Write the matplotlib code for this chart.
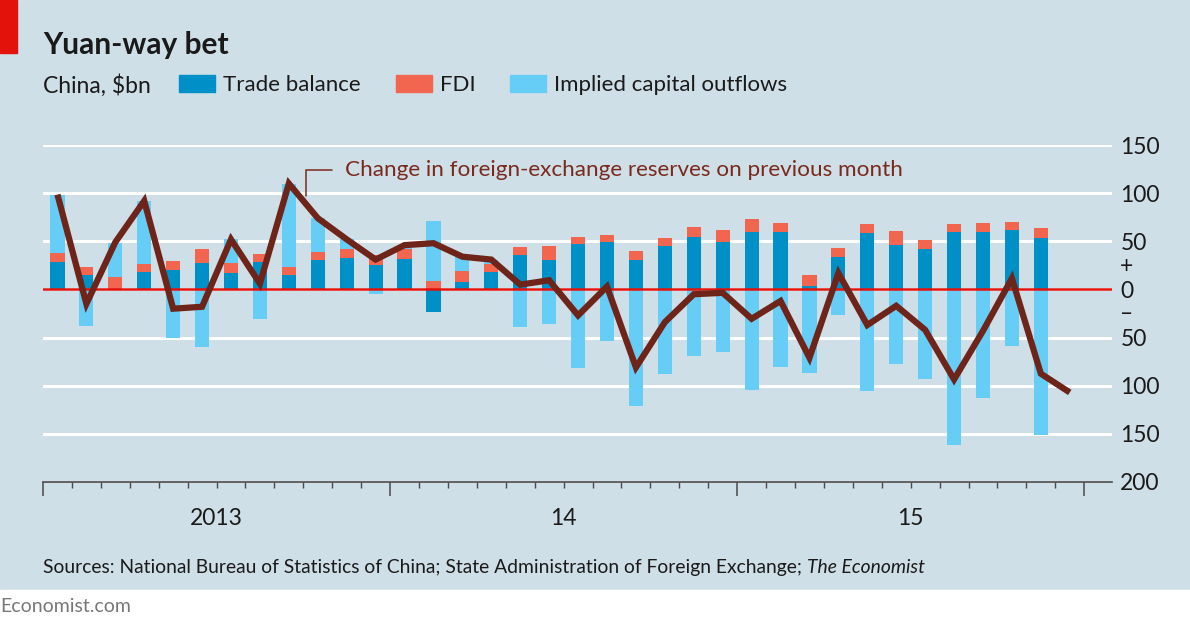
import numpy as np
import pandas as pd
import matplotlib
matplotlib.use("Agg")
import matplotlib.pyplot as plt
from matplotlib.patches import Patch, Rectangle

plt.rcParams['font.family'] = ['Liberation Sans Narrow', 'Lato', 'DejaVu Sans']

# monthly data, Jan 2013 - Nov 2015 (reserves to Dec 2015), $bn
months = pd.date_range('2013-01-01', '2015-12-01', freq='MS')

trade_balance = [29, 14.5, -1, 18, 20, 27, 17, 28.5, 14.5, 30.5, 33, 25,
                 31.5, -23.5, 7.5, 18, 35.5, 31, 47, 49, 31, 45, 54, 49,
                 59.5, 60, 3.5, 34, 59, 46, 42, 59.5, 60, 61.5, 53.5]
fdi = [9, 9, 12.5, 8, 10, 15, 10, 8, 9, 8.5, 9, 11,
       10.5, 8.5, 12, 8.5, 9, 14.5, 7.5, 7.5, 9, 8.5, 10.5, 13,
       14, 8.5, 12, 9.5, 9, 14.5, 9, 8.5, 9.5, 9, 10.5]
capital = [60.5, -38.5, 35.5, 66, -50, -60, 25, -30.5, 86.5, 35, 10, -5,
           4, 63, 14.5, 4.5, -39.5, -36, -81.5, -53.5, -121, -87.5, -69.5, -65.5,
           -104, -80.5, -86.5, -26.5, -105, -77.5, -93, -161.5, -112.5, -59, -151.5]
reserves = [98.5, -15, 49, 92, -20, -18, 52, 6, 110, 74, 52, 31,
            46, 48, 34, 31, 5, 9.5, -27, 3, -81, -34, -5, -3.5,
            -30.5, -12, -71, 17, -37, -17, -42, -93.5, -43, 11.5, -87.5, -107]

year_labels = ['2013', '14', '15']
y_ticks = [150, 100, 50, 0, -50, -100, -150, -200]

BG = '#cfdfe7'
C_TB = '#0090c8'
C_FDI = '#f26650'
C_CAP = '#66cdf6'
C_LINE = '#6e2418'
C_TEXT_LINE = '#7a2a1c'
RED = '#e3120b'
GREY = '#4a4a4a'
INK = '#1a1a1a'

W, H = 1190, 624


def fx(px):
    return px / W


def fy(py):
    return 1 - py / H


fig = plt.figure(figsize=(W / 100, H / 100), dpi=100)
fig.patch.set_facecolor(BG)

# white strip at the bottom and red tag top-left
fig.add_artist(Rectangle((0, 0), 1, 34 / H, transform=fig.transFigure,
                         color='white', zorder=0))
fig.add_artist(Rectangle((0, fy(53)), 17 / W, 53 / H, transform=fig.transFigure,
                         color=RED, zorder=1))

ax = fig.add_axes([fx(43), fy(482), fx(1112) - fx(43), fy(145) - fy(482)])
ax.set_facecolor('none')

# stacked bars: positive parts go up from zero, negative parts down
n = len(trade_balance)
xb = np.arange(n) + 0.5
pos_base = np.zeros(n)
neg_base = np.zeros(n)
for vals, col in [(trade_balance, C_TB), (fdi, C_FDI), (capital, C_CAP)]:
    v = np.array(vals, dtype=float)
    base = np.where(v >= 0, pos_base, neg_base)
    ax.bar(xb, v, bottom=base, width=0.49, color=col, linewidth=0, zorder=2)
    pos_base += np.clip(v, 0, None)
    neg_base += np.clip(v, None, 0)

ax.axhline(0, color=RED, lw=1.8, zorder=3)
ax.plot(np.arange(len(reserves)) + 0.5, reserves, color=C_LINE, lw=4.5,
        zorder=4, solid_joinstyle='miter', solid_capstyle='butt')

ax.set_xlim(0, 36.96)
ax.set_ylim(-200, 150)

# y axis on the right, negative values shown without sign
ax.yaxis.tick_right()
ax.set_yticks(y_ticks)
ax.set_yticklabels([str(abs(t)) for t in y_ticks])
ax.tick_params(axis='y', length=0, pad=6, labelsize=16.5, labelcolor=INK)
ax.yaxis.grid(True, color='white', lw=2.2)
ax.set_axisbelow(True)

ax.set_xticks([0, 12, 24, 36])
ax.set_xticks(np.arange(0, 37), minor=True)
ax.set_xticklabels([])
ax.tick_params(axis='x', which='major', length=10, width=1.1, color=GREY)
ax.tick_params(axis='x', which='minor', length=4, width=1.0, color=GREY)

for s in ['top', 'left', 'right']:
    ax.spines[s].set_visible(False)
ax.spines['bottom'].set_color(GREY)
ax.spines['bottom'].set_linewidth(1.2)

for i, lab in enumerate(year_labels):
    ax.annotate(lab, xy=(6 + 12 * i, 0), xycoords=('data', 'axes fraction'),
                xytext=(0, -26), textcoords='offset points',
                ha='center', va='center', fontsize=16.5, color=INK)

ax.annotate('+', xy=(1, 24), xycoords=('axes fraction', 'data'),
            xytext=(6, 0), textcoords='offset points',
            ha='left', va='center', fontsize=16.5, color=INK)
ax.annotate('\u2013', xy=(1, -25), xycoords=('axes fraction', 'data'),
            xytext=(6, 0), textcoords='offset points',
            ha='left', va='center', fontsize=16.5, color=INK)

ax.annotate('Change in foreign-exchange reserves on previous month',
            xy=(9.09, 97), xytext=(10.44, 124), fontsize=16.2,
            color=C_TEXT_LINE, ha='left', va='center',
            arrowprops=dict(arrowstyle='-', color=C_TEXT_LINE, lw=1.1,
                            connectionstyle='angle,angleA=0,angleB=90,rad=0',
                            relpos=(0, 0.5), shrinkA=7, shrinkB=0))

# titles and legend
fig.text(fx(43), fy(54), 'Yuan-way bet', fontsize=21.5, fontweight='bold',
         color=INK, va='baseline')
fig.text(fx(43), fy(93), 'China, $bn', fontsize=16.5, color=INK, va='baseline')

handles = [Patch(color=C_TB, label='Trade balance'),
           Patch(color=C_FDI, label='FDI'),
           Patch(color=C_CAP, label='Implied capital outflows')]
leg = fig.legend(handles=handles, loc='upper left', bbox_to_anchor=(fx(179), fy(75)),
                 ncol=3, frameon=False, fontsize=16, handlelength=1.62,
                 handleheight=0.77, handletextpad=0.36, columnspacing=1.58,
                 borderpad=0, borderaxespad=0)
for t in leg.get_texts():
    t.set_color(INK)

src = fig.text(fx(43), fy(573), 'Sources: National Bureau of Statistics of China; '
               'State Administration of Foreign Exchange; ',
               fontsize=13.9, color=INK, va='baseline')
fig.canvas.draw()
bb = src.get_window_extent()
fig.text(bb.x1 / W, fy(573), 'The Economist', fontsize=13.9, style='italic',
         color=INK, va='baseline')

fig.text(0, fy(612), 'Economist.com', fontsize=14, color='#777777', va='baseline')

fig.savefig('out.png', dpi=100, facecolor=fig.get_facecolor())
